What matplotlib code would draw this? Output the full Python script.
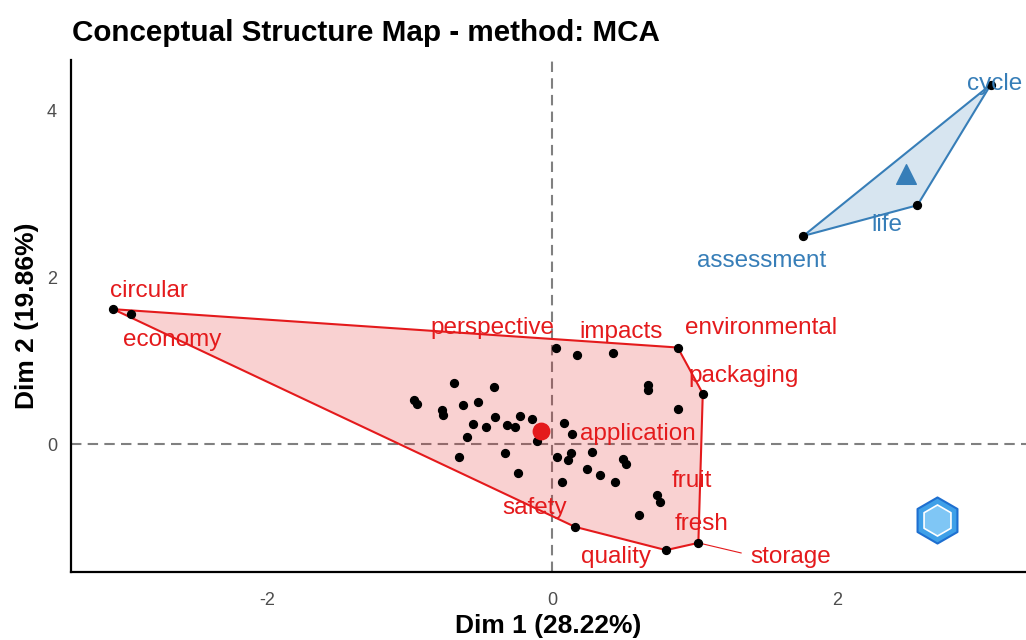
import numpy as np
import matplotlib.pyplot as plt
from matplotlib.patches import Polygon

plt.rcParams['font.family'] = ['Liberation Sans', 'DejaVu Sans']
plt.rcParams['axes.unicode_minus'] = False

# cluster 1 (red) word coordinates
red_x = [-3.079, -2.957, 0.028, 0.173, 0.430, 0.882, -0.688, -0.407, -0.966, -0.945,
         -0.774, -0.763, -0.622, -0.517, -0.552, -0.463, -0.400, -0.318, -0.260, -0.225,
         -0.138, -0.107, -0.599, -0.653, -0.330, -0.236, 0.086, 0.142, 0.033, 0.133,
         0.114, 0.068, 0.283, 0.248, 0.337, 0.442, 0.496, 0.519, 0.672, 0.676,
         0.882, 1.058, 0.735, 0.758, 0.613, 0.161, 0.800, 1.027]
red_y = [1.617, 1.565, 1.158, 1.074, 1.098, 1.158, 0.734, 0.686, 0.527, 0.487,
         0.407, 0.347, 0.467, 0.507, 0.240, 0.207, 0.320, 0.224, 0.207, 0.335,
         0.296, 0.040, 0.087, -0.152, -0.111, -0.344, 0.255, 0.116, -0.152, -0.111,
         -0.192, -0.455, -0.099, -0.296, -0.371, -0.455, -0.183, -0.240, 0.707, 0.647,
         0.416, 0.607, -0.611, -0.691, -0.850, -0.990, -1.269, -1.182]
red_center = (-0.077, 0.159)

# cluster 2 (blue)
blue_x = [3.079, 2.564, 1.764]
blue_y = [4.308, 2.862, 2.495]
blue_center = (2.482, 3.242)

red_labels = ["circular", "economy", "perspective", "impacts", "environmental", "packaging",
              "application", "fruit", "fresh", "storage", "quality", "safety"]
red_label_pos = [(-2.828, 1.832), (-2.667, 1.246), (-0.421, 1.389), (0.484, 1.341),
                 (1.467, 1.389), (1.347, 0.814), (0.604, 0.120), (0.982, -0.443),
                 (1.053, -0.958), (1.677, -1.353), (0.449, -1.353), (-0.119, -0.766)]
blue_labels = ["cycle", "life", "assessment"]
blue_label_pos = [(3.109, 4.311), (2.351, 2.623), (1.474, 2.192)]

RED = '#E41A1C'
BLUE = '#377EB8'


def convex_hull(xs, ys):
    pts = sorted(set(zip(xs, ys)))
    def cross(o, a, b):
        return (a[0] - o[0]) * (b[1] - o[1]) - (a[1] - o[1]) * (b[0] - o[0])
    lower, upper = [], []
    for p in pts:
        while len(lower) >= 2 and cross(lower[-2], lower[-1], p) <= 0:
            lower.pop()
        lower.append(p)
    for p in reversed(pts):
        while len(upper) >= 2 and cross(upper[-2], upper[-1], p) <= 0:
            upper.pop()
        upper.append(p)
    return lower[:-1] + upper[:-1]


fig = plt.figure(figsize=(10.26, 6.4), dpi=100)
ax = fig.add_axes([0.0692, 0.106, 0.9308, 0.80])

ax.axhline(0, color='#808080', linestyle=(0, (5, 3)), linewidth=1.5, zorder=1)
ax.axvline(0, color='#808080', linestyle=(0, (5, 3)), linewidth=1.5, zorder=1)

ax.add_patch(Polygon(convex_hull(red_x, red_y), closed=True, facecolor=RED, alpha=0.2,
                     edgecolor='none', zorder=2))
ax.add_patch(Polygon(convex_hull(red_x, red_y), closed=True, facecolor='none',
                     edgecolor=RED, linewidth=1.5, zorder=3))
ax.add_patch(Polygon(convex_hull(blue_x, blue_y), closed=True, facecolor=BLUE, alpha=0.2,
                     edgecolor='none', zorder=2))
ax.add_patch(Polygon(convex_hull(blue_x, blue_y), closed=True, facecolor='none',
                     edgecolor=BLUE, linewidth=1.5, zorder=3))

# storage label connector
ax.plot([red_x[-1], red_label_pos[9][0] - 0.35], [red_y[-1], red_label_pos[9][1] + 0.05],
        color=RED, linewidth=0.8, zorder=3)

ax.scatter(red_x, red_y, s=32, color='black', zorder=4)
ax.scatter(blue_x, blue_y, s=32, color='black', zorder=4)
ax.scatter([red_center[0]], [red_center[1]], s=140, color=RED, zorder=5)
ax.scatter([blue_center[0]], [blue_center[1]], s=200, marker='^', color=BLUE, zorder=5)

for lab, (tx, ty) in zip(red_labels, red_label_pos):
    ax.text(tx, ty, lab, color=RED, fontsize=17.5, ha='center', va='center', zorder=6)
for lab, (tx, ty) in zip(blue_labels, blue_label_pos):
    ax.text(tx, ty, lab, color=BLUE, fontsize=17.5, ha='center', va='center', zorder=6)

# logo watermark
ax.scatter([0.907], [0.102], s=1100, marker='h', transform=ax.transAxes,
           facecolor='#3FA0E8', edgecolor='#1E6FD0', linewidth=1.5, zorder=6, clip_on=False)
ax.scatter([0.907], [0.102], s=500, marker='h', transform=ax.transAxes,
           facecolor='#7FC6F5', edgecolor='white', linewidth=1.2, zorder=7, clip_on=False)

ax.set_xlim(-3.375, 3.326)
ax.set_ylim(-1.533, 4.6)
ax.set_xticks([-2, 0, 2])
ax.set_yticks([0, 2, 4])
ax.tick_params(axis='both', length=0, labelsize=13, labelcolor='#4D4D4D')
ax.tick_params(axis='x', pad=14)
ax.tick_params(axis='y', pad=10)

for side in ['top', 'right']:
    ax.spines[side].set_visible(False)
for side in ['left', 'bottom']:
    ax.spines[side].set_linewidth(1.6)
    ax.spines[side].set_color('black')

ax.set_xlabel('Dim 1 (28.22%)', fontsize=19, fontweight='bold', labelpad=4)
ax.set_ylabel('Dim 2 (19.86%)', fontsize=19, fontweight='bold', labelpad=6)
fig.text(0.0702, 0.948, 'Conceptual Structure Map - method: MCA', fontsize=21.3,
         fontweight='bold', ha='left', va='center')

fig.savefig('out.png', dpi=100)
